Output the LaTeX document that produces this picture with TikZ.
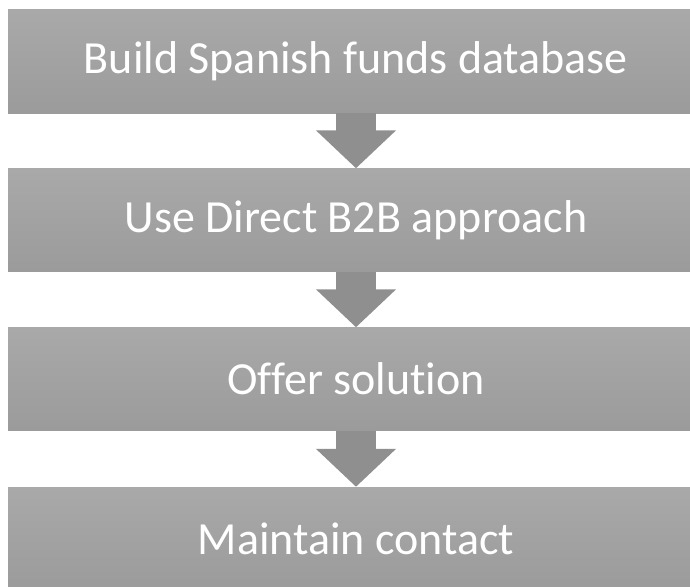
\documentclass[tikz,border=0pt]{standalone}
\usepackage{fontspec}
\setmainfont[Ligatures=NoCommon]{Carlito}
\usetikzlibrary{arrows.meta}
\definecolor{boxtop}{HTML}{A9A9A9}
\definecolor{boxbot}{HTML}{9B9B9B}
\definecolor{arrowgray}{HTML}{8F8F8F}
\begin{document}
\begin{tikzpicture}[x=1pt, y=-1pt,
	stage/.style={rectangle, top color=boxtop, bottom color=boxbot, draw=none, minimum width=696pt, minimum height=103pt, inner sep=0pt, text=white, font=\fontsize{46}{52}\selectfont},
	flow/.style={draw=arrowgray, line width=40pt, -{Triangle[width=78pt, length=38pt]}}]
				\useasboundingbox (0,0) rectangle (690,586);
				\clip (0,0) rectangle (690,586);
				\node[stage] (build) at (356,61.5) [] {Build Spanish funds database};
				\node[stage] (direct) at (356,220) [] {Use Direct B2B approach};
				\node[stage] (offer) at (356,379) [] {Offer solution};
				\node[stage] (contact) at (356,538.5) [] {Maintain contact};
				\draw[flow] (build.south) -- (direct.north);
				\draw[flow] (direct.south) -- (offer.north);
				\draw[flow] (offer.south) -- (contact.north);
			\end{tikzpicture}
\end{document}
